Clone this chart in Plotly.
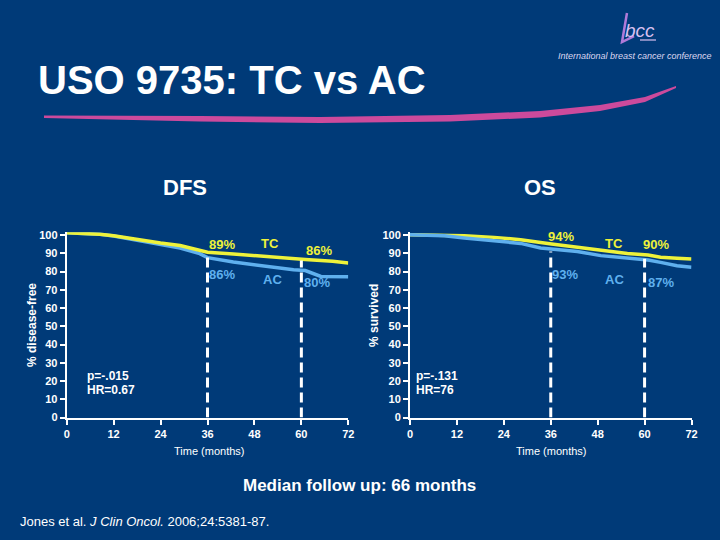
import plotly.graph_objects as go

# ---------------- data ----------------
dfs_tc_months = [0, 5, 8.5, 12, 17, 24, 29, 34, 36, 42.6, 51, 55.5, 61, 68, 72]
dfs_tc_values = [101.3, 101, 100.4, 99.6, 97.8, 95.6, 94.2, 91.6, 90.6, 89.6, 88.1, 87.3, 86.6, 85.6, 84.6]
dfs_ac_months = [0, 5, 8.5, 12, 17, 24, 29, 34, 36, 42.6, 51, 58, 61, 63, 65, 72]
dfs_ac_values = [101.3, 101, 100.4, 99.4, 97.4, 94.8, 92.9, 89.8, 87.6, 85.2, 82.8, 81, 80.5, 78.8, 77.3, 77.1]

os_tc_months = [0, 8.8, 13.9, 21.5, 28.3, 36.2, 42.8, 48.8, 55.6, 60.9, 64.1, 68.3, 72]
os_tc_values = [100.2, 100, 99.6, 98.7, 97.4, 95.1, 93.2, 91.4, 89.9, 89, 87.8, 87.2, 86.8]
os_ac_months = [0, 8.8, 13.9, 21.5, 28.3, 33.4, 36.2, 42.8, 48.8, 55.6, 60.9, 64.1, 68.3, 72]
os_ac_values = [100.2, 99.6, 98.4, 96.9, 95.4, 92.9, 92.3, 91, 88.7, 87.4, 86.3, 85, 83.2, 82.3]

x_ticks = [0, 12, 24, 36, 48, 60, 72]
y_ticks = [0, 10, 20, 30, 40, 50, 60, 70, 80, 90, 100]

landmark_months = [36, 60]
dfs_landmark_tops = [88, 86]
os_landmark_tops = [91, 87]

# curve labels: (text, month, value, colour key)
dfs_labels = [("89%", 39.7, 94.7, "tc"), ("TC", 52, 95.3, "tc"), ("86%", 64.4, 91.5, "tc"),
              ("86%", 39.6, 78.4, "ac"), ("AC", 52.5, 75.7, "ac"), ("80%", 64, 74, "ac")]
os_labels = [("94%", 38.7, 99.3, "tc"), ("TC", 52.2, 95.3, "tc"), ("90%", 62.9, 94.7, "tc"),
             ("93%", 39.7, 78.4, "ac"), ("AC", 52.2, 75.7, "ac"), ("87%", 64.1, 74, "ac")]

dfs_stats = ["p=-.015", "HR=0.67"]
os_stats = ["p=-.131", "HR=76"]

# ---------------- style ----------------
BG = "#003a78"
YELLOW = "#eef23a"
BLUE = "#5fb0ee"
WHITE = "#ffffff"
FONT = "Liberation Sans, Arial, sans-serif"
COL = {"tc": YELLOW, "ac": BLUE}

W, H = 720, 540
def px(x):
    return x / W
def py(y):
    return 1 - y / H

fig = go.Figure()

# DFS: AC under TC
fig.add_trace(go.Scatter(x=dfs_ac_months, y=dfs_ac_values, mode="lines",
                         line=dict(color=BLUE, width=3.5), xaxis="x", yaxis="y", showlegend=False))
fig.add_trace(go.Scatter(x=dfs_tc_months, y=dfs_tc_values, mode="lines",
                         line=dict(color=YELLOW, width=3.5), xaxis="x", yaxis="y", showlegend=False))
# OS: TC under AC
fig.add_trace(go.Scatter(x=os_tc_months, y=os_tc_values, mode="lines",
                         line=dict(color=YELLOW, width=3.5), xaxis="x2", yaxis="y2", showlegend=False))
fig.add_trace(go.Scatter(x=os_ac_months, y=os_ac_values, mode="lines",
                         line=dict(color=BLUE, width=3.5), xaxis="x2", yaxis="y2", showlegend=False))

shapes = []
for m, t in zip(landmark_months, dfs_landmark_tops):
    shapes.append(dict(type="line", xref="x", yref="y", x0=m, x1=m, y0=0, y1=t,
                       line=dict(color=WHITE, width=3, dash="10px,5px")))
for m, t in zip(landmark_months, os_landmark_tops):
    shapes.append(dict(type="line", xref="x2", yref="y2", x0=m, x1=m, y0=0, y1=t,
                       line=dict(color=WHITE, width=3, dash="10px,5px")))

def paper_path(points, close=True):
    p = "M " + " L ".join(f"{px(x):.4f},{py(y):.4f}" for x, y in points)
    return p + (" Z" if close else "")

# pink swoosh under title
top_edge = [(44, 115.5), (200, 116), (320, 117), (450, 115), (540, 111), (600, 105), (645, 97), (676, 86)]
bot_edge = [(676, 88), (645, 102), (600, 111), (540, 117.5), (450, 121.5), (320, 123), (200, 121.5), (44, 118)]
shapes.append(dict(type="path", xref="paper", yref="paper", path=paper_path(top_edge + bot_edge),
                   fillcolor="#cc4a9c", line=dict(width=0), layer="above"))

# logo strokes
shapes.append(dict(type="path", xref="paper", yref="paper",
                   path=paper_path([(627, 13), (622, 42), (634, 36)], close=False),
                   line=dict(color="#b07ad8", width=2.5)))
shapes.append(dict(type="line", xref="paper", yref="paper", x0=px(640), x1=px(656), y0=py(40), y1=py(40),
                   line=dict(color="#d8c0f0", width=1.2)))

annotations = []
def ann(text, x, y, size, color=WHITE, bold=True, xanchor="center", yanchor="middle",
        angle=0, xref="paper", yref="paper", italic=False, family=FONT):
    annotations.append(dict(text=text, x=x, y=y, xref=xref, yref=yref, showarrow=False,
                            xanchor=xanchor, yanchor=yanchor, textangle=angle,
                            font=dict(family=family, size=size, color=color,
                                      weight="bold" if bold else "normal",
                                      style="italic" if italic else "normal")))

ann("USO 9735: TC vs AC", px(36), py(80), 40, xanchor="left")
ann("DFS", px(185), py(187), 22)
ann("OS", px(540), py(187), 22)
ann("Median follow up: 66 months", px(359), py(485), 17)
ann("Jones et al. <i>J Clin Oncol.</i> 2006;24:5381-87.", px(18), py(521), 13, bold=False, xanchor="left")
ann("% disease-free", px(32), py(325), 12, angle=-90)
ann("% survived", px(374), py(316), 12, angle=-90)
ann("Time (months)", px(209), py(451), 11, bold=False)
ann("Time (months)", px(551), py(451), 11, bold=False)

# logo text
ann("bcc", px(640), py(30), 19, color="#d8c0f0", bold=False, italic=True)
ann("International breast cancer conference", px(635), py(56), 9, color="#dcd6f0", bold=False, italic=True)

for text, m, v, k in dfs_labels:
    ann(text, m, v, 13, color=COL[k], xref="x", yref="y")
for text, m, v, k in os_labels:
    ann(text, m, v, 13, color=COL[k], xref="x2", yref="y2")

ann(dfs_stats[0], 4.6, 22.5, 12, xanchor="left", xref="x", yref="y")
ann(dfs_stats[1], 4.6, 14.9, 12, xanchor="left", xref="x", yref="y")
ann(os_stats[0], 1.1, 22.5, 12, xanchor="left", xref="x2", yref="y2")
ann(os_stats[1], 1.1, 14.9, 12, xanchor="left", xref="x2", yref="y2")

Y0 = 417.5          # pixel row of value 0
UNIT = 1.825        # pixels per percentage point
y_bottom = py(Y0)
y_top = py(Y0 - 101.5 * UNIT)

axis_common = dict(showgrid=False, zeroline=False, showline=True, linecolor=WHITE, linewidth=2,
                   ticks="outside", tickcolor=WHITE, ticklen=5, tickwidth=1.5, automargin=False,
                   tickfont=dict(family=FONT, size=11, color=WHITE, weight="bold"))

fig.update_layout(
    width=W, height=H,
    margin=dict(l=0, r=0, t=0, b=0, autoexpand=False),
    paper_bgcolor=BG, plot_bgcolor=BG,
    showlegend=False,
    xaxis=dict(domain=[px(66.7), px(348.3)], range=[0, 72], tickvals=x_ticks, anchor="y", **axis_common),
    yaxis=dict(domain=[y_bottom, y_top], range=[0, 101.5], tickvals=y_ticks, anchor="x", **axis_common),
    xaxis2=dict(domain=[px(410), px(691.5)], range=[0, 72], tickvals=x_ticks, anchor="y2", **axis_common),
    yaxis2=dict(domain=[y_bottom, y_top], range=[0, 101.5], tickvals=y_ticks, anchor="x2", **axis_common),
    shapes=shapes,
    annotations=annotations,
)

fig.write_html("out.html", config={"displayModeBar": False},
               post_script="document.body.style.margin='0';document.body.style.overflow='hidden';")
